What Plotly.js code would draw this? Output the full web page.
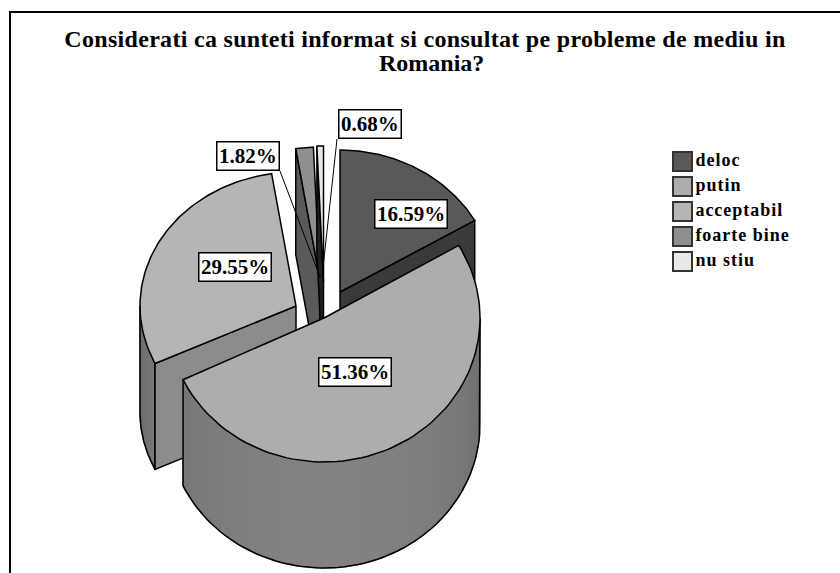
<!DOCTYPE html>
<html>
<head>
<meta charset="utf-8">
<script src="https://cdn.plot.ly/plotly-3.0.1.min.js"></script>
<style>
html,body{margin:0;padding:0;background:#fff}
#c{width:840px;height:573px}
.gtitle{letter-spacing:.3px}
.textpoint text{letter-spacing:1px}
</style>
</head>
<body>
<div id="c"></div>
<script>
// ---- chart data ----
var categories = ['deloc', 'putin', 'acceptabil', 'foarte bine', 'nu stiu'];
var values = [16.59, 51.36, 29.55, 1.82, 0.68];
var titleLines = ['Considerati ca sunteti informat si consultat pe probleme de mediu in', 'Romania?'];

// ---- styles ----
var topColors = ['#595959', '#adadad', '#b5b5b5', '#8f8f8f', '#e8e8e8'];
var faceColors = ['#3a3a3a', '#808080', '#8c8c8c', '#5a5a5a', '#222222'];
var serif = 'Liberation Serif, Times New Roman, serif';

// ---- projection of each exploded slice (axis units equal pixels) ----
var apexX = [340, 324, 296, 320, 323.5];
var apexY = [292, 318, 306, 280, 282];
var radX = [156, 156, 156, 155, 155];
var radY = [142, 144, 134, 133, 136];
var depth = 106;
var labelX = [411, 354.5, 234.5, 247.5, 370];
var labelY = [214, 371.5, 267, 156, 124];

var traces = [];
var cum = 0;
var starts = [], ends = [];
var total = values.reduce(function (a, b) { return a + b; }, 0);
values.forEach(function (v) {
  starts.push(cum / total * 360);
  cum += v;
  ends.push(cum / total * 360);
});

function pt(i, deg, dz) {
  var a = deg * Math.PI / 180;
  return [apexX[i] + radX[i] * Math.sin(a), apexY[i] - radY[i] * Math.cos(a) + (dz || 0)];
}
function poly(points, fill, lw, lc) {
  traces.push({
    type: 'scatter', mode: 'lines', hoverinfo: 'skip', showlegend: false,
    x: points.map(function (p) { return p[0]; }),
    y: points.map(function (p) { return p[1]; }),
    fill: fill ? 'toself' : 'none', fillcolor: fill || undefined,
    line: { color: lc || '#000', width: lw, shape: 'linear' }
  });
}
function arc(i, a0, a1, dz, n) {
  var out = [];
  for (var k = 0; k <= n; k++) out.push(pt(i, a0 + (a1 - a0) * k / n, dz));
  return out;
}
function sideShade(deg) {
  var s = Math.sin((deg - 90) / 180 * Math.PI);
  var v = Math.round(0x6a + (0x82 - 0x6a) * Math.pow(Math.max(s, 0), 0.8));
  return 'rgb(' + v + ',' + v + ',' + v + ')';
}
function drawSide(i, a0, a1, strips) {
  for (var k = 0; k < strips; k++) {
    var b0 = a0 + (a1 - a0) * k / strips, b1 = a0 + (a1 - a0) * (k + 1) / strips;
    var pts = arc(i, b0, b1, 0, 3).concat(arc(i, b1, b0, depth, 3));
    pts.push(pts[0]);
    var c = sideShade((b0 + b1) / 2);
    poly(pts, c, 1.5, c);
  }
  var outline = arc(i, a0, a1, depth, 60);
  outline.unshift(pt(i, a0, 0));
  outline.push(pt(i, a1, 0));
  poly(outline, null, 1.5);
}
function drawFace(i, deg) {
  var o = pt(i, deg, 0), ob = pt(i, deg, depth);
  var c = [apexX[i], apexY[i]], cb = [apexX[i], apexY[i] + depth];
  poly([c, o, ob, cb, c], faceColors[i], 1.5);
}
function drawTop(i) {
  var pts = [[apexX[i], apexY[i]]].concat(arc(i, starts[i], ends[i], 0, 80));
  pts.push([apexX[i], apexY[i]]);
  poly(pts, topColors[i], 1.5);
}

drawSide(2, starts[2], 270, 6);
drawFace(2, starts[2]);
drawTop(2);
drawFace(3, starts[3]);
drawTop(3);
drawFace(4, starts[4]);
drawTop(4);
drawFace(0, ends[0]);
drawTop(0);
drawSide(1, 90, ends[1], 34);
drawTop(1);

// leader lines of the two small slices
poly([[280, 171], [320, 277]], null, 1);
poly([[337, 139], [322, 277]], null, 1);

// legend
var legendY = categories.map(function (c, i) { return 161.5 + 25 * i; });
traces.push({
  type: 'scatter', mode: 'markers+text', hoverinfo: 'skip', showlegend: false,
  x: categories.map(function () { return 682.5; }),
  y: legendY,
  text: categories.map(function (c) { return '<b>' + c + '</b>'; }),
  textposition: 'middle right',
  textfont: { family: serif, size: 18, color: '#000' },
  marker: { symbol: 'square', size: 19, color: topColors, line: { color: '#333', width: 2 } }
});

var annotations = values.map(function (v, i) {
  return {
    x: labelX[i], y: labelY[i], xref: 'x', yref: 'y', showarrow: false,
    text: '<b>' + v.toFixed(2) + '%</b>',
    font: { family: serif, size: 21, color: '#000' },
    bgcolor: '#fff', bordercolor: '#000', borderwidth: 1.5, borderpad: 1.5,
    xanchor: 'center', yanchor: 'middle'
  };
});
annotations.push({
  x: 431, y: 63, xref: 'x', yref: 'y', showarrow: false,
  text: '<b>' + titleLines[1] + '</b>',
  font: { family: serif, size: 24, color: '#000' },
  xanchor: 'center', yanchor: 'middle'
});

var layout = {
  width: 840, height: 573,
  margin: { l: 0, r: 0, t: 0, b: 0 },
  paper_bgcolor: '#fff', plot_bgcolor: '#fff',
  showlegend: false,
  title: {
    text: '<b>' + titleLines[0] + '</b>',
    font: { family: serif, size: 24, color: '#000' },
    xref: 'paper', yref: 'paper',
    x: 425 / 840, xanchor: 'center', y: 1 - 39 / 573, yanchor: 'middle'
  },
  xaxis: { range: [0, 840], visible: false, fixedrange: true },
  yaxis: { range: [573, 0], visible: false, fixedrange: true },
  shapes: [{
    type: 'rect', xref: 'x', yref: 'y', x0: 10, y0: 12, x1: 860, y1: 600,
    line: { color: '#000', width: 2 }, fillcolor: 'rgba(0,0,0,0)', layer: 'below'
  }],
  annotations: annotations
};

Plotly.newPlot('c', traces, layout, { displayModeBar: false, staticPlot: true });
</script>
</body>
</html>
